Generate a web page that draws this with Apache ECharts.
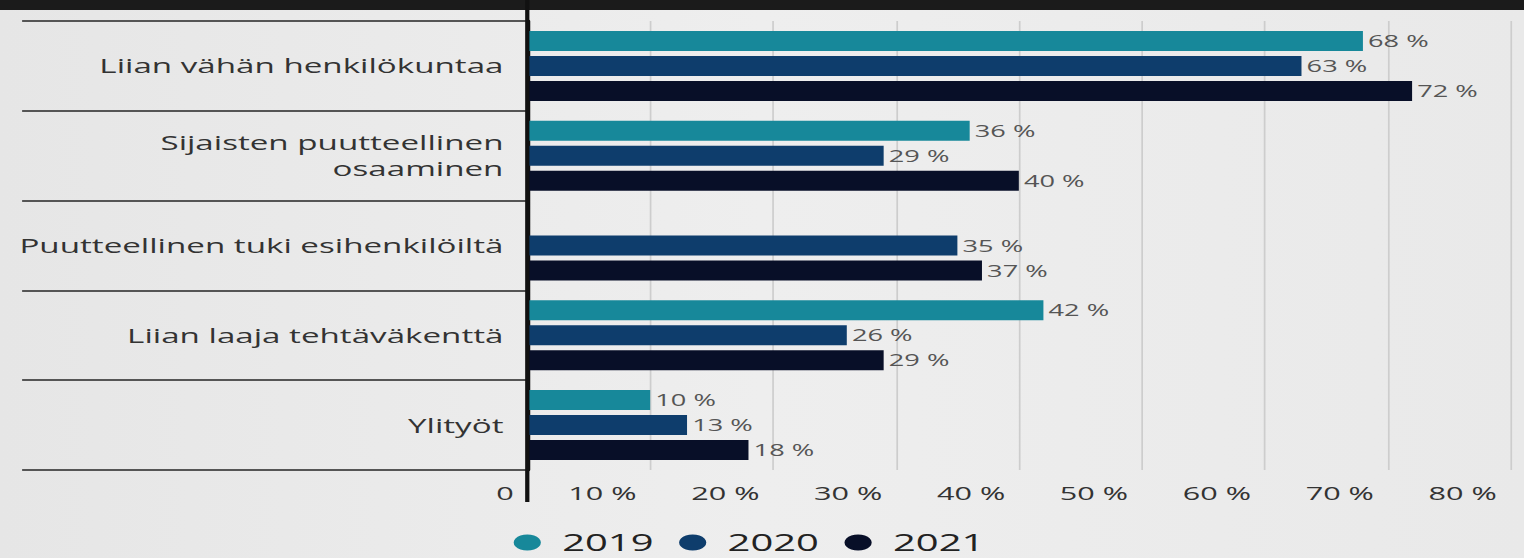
<!DOCTYPE html>
<html>
<head>
<meta charset="utf-8">
<script src="https://cdn.jsdelivr.net/npm/echarts@6/dist/echarts.min.js"></script>
<style>
html,body{margin:0;padding:0;background:#e9e9e9;overflow:hidden;}
#wrap{width:1524px;height:558px;overflow:hidden;position:relative;}
#c{width:896px;height:558px;transform:scaleX(1.7009);transform-origin:0 0;}
</style>
</head>
<body>
<div id="wrap"><div id="c"></div></div>
<script>
const categories = ['Liian vähän henkilökuntaa', 'Sijaisten puutteellinen\nosaaminen', 'Puutteellinen tuki esihenkilöiltä', 'Liian laaja tehtäväkenttä', 'Ylityöt'];
const years = ['2019', '2020', '2021'];
const values2019 = [68, 36, null, 42, 10];
const values2020 = [63, 29, 35, 26, 13];
const values2021 = [72, 40, 37, 29, 18];
const xTicks = [0, 10, 20, 30, 40, 50, 60, 70, 80];
const colors = ['#17889a', '#0e3d6c', '#080f28'];

const chart = echarts.init(document.getElementById('c'), null, {renderer: 'svg'});
const font = '"Open Sans", "Noto Sans", sans-serif';
const AX = 310; // y-axis position in the unstretched chart

function mk(name, data, color) {
  return {
    name: name, type: 'bar', data: data, barWidth: 20, barGap: '25%',
    itemStyle: {color: color},
    label: {show: true, position: 'right', distance: 3, formatter: p => p.value + ' %',
      color: '#555', fontSize: 16, fontFamily: font},
    emphasis: {disabled: true}
  };
}

chart.setOption({
  backgroundColor: {type: 'linear', x: 0, y: 0, x2: 1, y2: 0, colorStops: [
    {offset: 0, color: '#e6e6e6'}, {offset: 0.5, color: '#eeeeee'}, {offset: 1, color: '#e9e9e9'}]},
  animation: false,
  textStyle: {fontFamily: font},
  grid: {left: AX, right: 8, top: 21, bottom: 88, containLabel: false},
  legend: {
    data: years, left: 302, top: 530, icon: 'circle', itemWidth: 17, itemHeight: 16, itemGap: 15,
    padding: 0,
    textStyle: {fontSize: 23.5, color: '#222', fontFamily: font, padding: [0, 0, 0, 7], lineHeight: 25}
  },
  xAxis: {
    type: 'value', min: xTicks[0], max: xTicks[xTicks.length - 1], interval: 10,
    axisLine: {show: false}, axisTick: {show: false},
    splitLine: {show: true, lineStyle: {color: '#cdcdcd', width: 1}},
    axisLabel: {formatter: v => v === 0 ? '0' : v + ' %', align: 'right', padding: [0, 8, 0, 0],
      margin: 14, fontSize: 18, color: '#333', fontFamily: font}
  },
  yAxis: {
    type: 'category', data: categories, inverse: true,
    axisLine: {show: true, lineStyle: {color: '#111', width: 2.5}},
    axisTick: {show: true, length: 297, lineStyle: {color: '#555', width: 2}},
    axisLabel: {margin: 14, fontSize: 19.5, color: '#333', align: 'right', lineHeight: 26, fontFamily: font},
    splitLine: {show: false}
  },
  series: [mk(years[0], values2019, colors[0]), mk(years[1], values2020, colors[1]), mk(years[2], values2021, colors[2])],
  graphic: [
    {type: 'rect', shape: {x: 0, y: 0, width: 896, height: 10}, style: {fill: '#1b1b1b'}, z: 100},
    {type: 'line', shape: {x1: AX, y1: 0, x2: AX, y2: 502}, style: {stroke: '#111', lineWidth: 2.5}, z: 100}
  ]
});
</script>
</body>
</html>
